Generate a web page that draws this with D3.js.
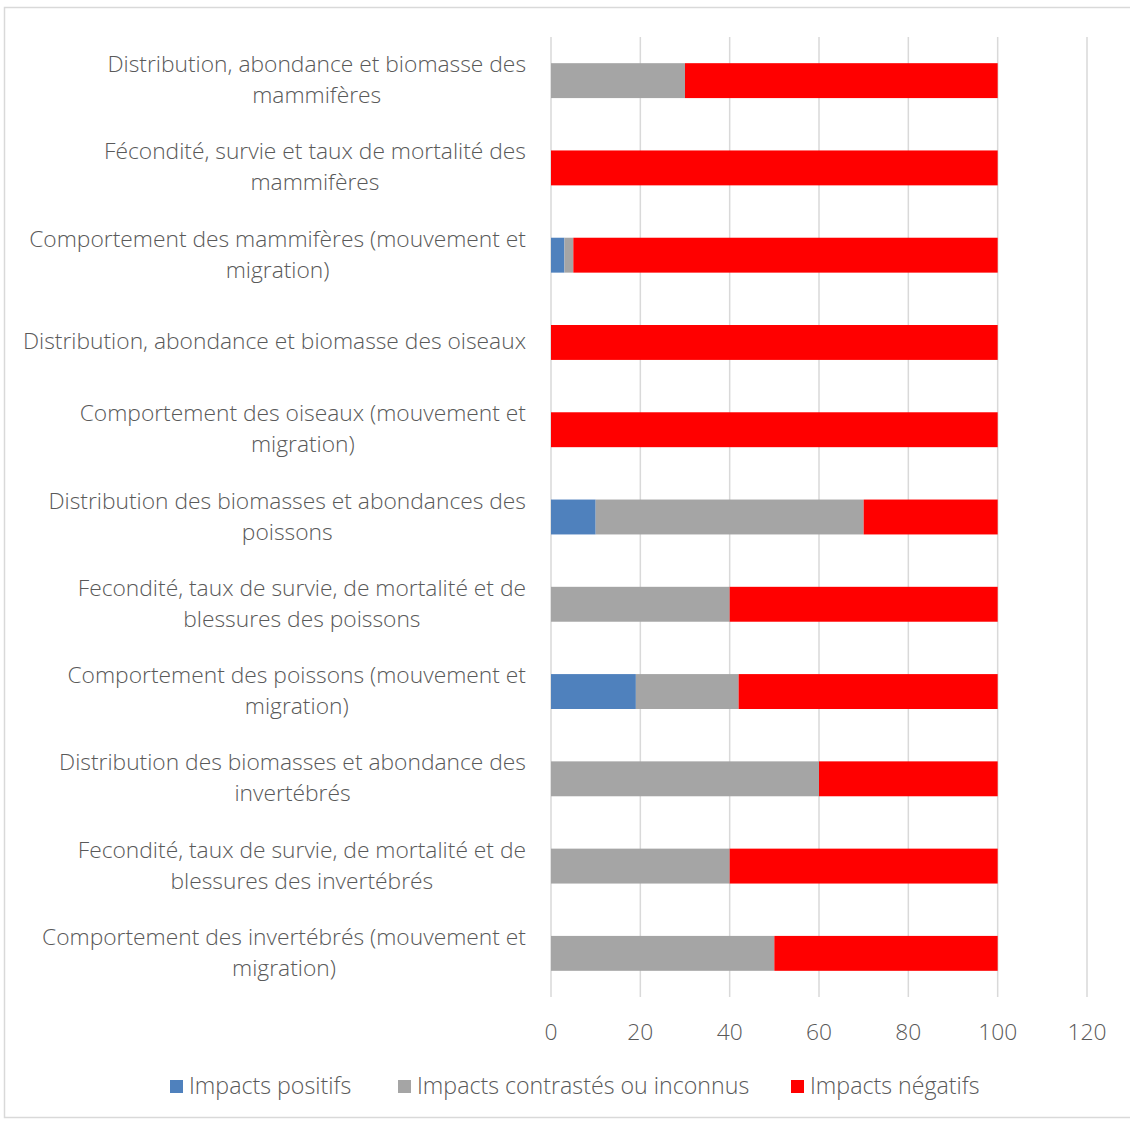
<!DOCTYPE html>
<html>
<head>
<meta charset="utf-8">
<script src="https://cdn.jsdelivr.net/npm/d3@7"></script>
<style>
  html, body { margin: 0; padding: 0; background: #fff; }
  svg text { font-family: "Open Sans", "Noto Sans", sans-serif; font-weight: 300; fill: #595959; }
</style>
</head>
<body>
<div id="chart"></div>
<script>
// Barres empilées à 100 % — impacts par groupe d'espèces
const CATEGORIES = [
  ["Distribution, abondance et biomasse des", "mammifères"],
  ["Fécondité, survie et taux de mortalité des", "mammifères"],
  ["Comportement des mammifères (mouvement et", "migration)"],
  ["Distribution, abondance et biomasse des oiseaux"],
  ["Comportement des oiseaux (mouvement et", "migration)"],
  ["Distribution des biomasses et abondances des", "poissons"],
  ["Fecondité, taux de survie, de mortalité et de", "blessures des poissons"],
  ["Comportement des poissons (mouvement et", "migration)"],
  ["Distribution des biomasses et abondance des", "invertébrés"],
  ["Fecondité, taux de survie, de mortalité et de", "blessures des invertébrés"],
  ["Comportement des invertébrés (mouvement et", "migration)"],
];
const POSITIFS   = [0, 0, 3, 0, 0, 10, 0, 19, 0, 0, 0];
const CONTRASTES = [30, 0, 2, 0, 0, 60, 40, 23, 60, 40, 50];
const NEGATIFS   = [70, 100, 95, 100, 100, 30, 60, 58, 40, 60, 50];
const SERIES = ["Impacts positifs", "Impacts contrastés ou inconnus", "Impacts négatifs"];
const TICKS = [0, 20, 40, 60, 80, 100, 120];

const COLS = ["#4f81bd", "#a5a5a5", "#ff0000"];
const W = 1130, H = 1122, ML = 551, MR = 1087, TOP = 37, BOT = 997;

const svg = d3.select("#chart").append("svg")
  .attr("width", W).attr("height", H).style("display", "block");

// cadre
svg.append("rect").attr("x", 4.5).attr("y", 7.5).attr("width", W).attr("height", 1110)
  .attr("fill", "none").attr("stroke", "#d9d9d9").attr("stroke-width", 1.5);

const x = d3.scaleLinear().domain([0, 120]).range([ML, MR]);
const y = d3.scaleBand().domain(d3.range(CATEGORIES.length)).range([TOP, BOT])
  .paddingInner(0.6).paddingOuter(0.3);

// grille
TICKS.forEach(v => {
  svg.append("line").attr("x1", x(v)).attr("x2", x(v)).attr("y1", TOP).attr("y2", BOT)
    .attr("stroke", "#d9d9d9").attr("stroke-width", 1.5);
  svg.append("text").attr("x", x(v)).attr("y", 1040).attr("text-anchor", "middle")
    .attr("font-size", 22.8).text(v);
});

// barres
const rows = CATEGORIES.map((c, i) => [POSITIFS[i], CONTRASTES[i], NEGATIFS[i]]);
rows.forEach((vals, i) => {
  let acc = 0;
  vals.forEach((v, s) => {
    if (v > 0) {
      svg.append("rect").attr("x", x(acc)).attr("width", x(acc + v) - x(acc))
        .attr("y", y(i)).attr("height", y.bandwidth()).attr("fill", COLS[s]);
    }
    acc += v;
  });
});

// libellés (bloc aligné à droite, lignes centrées)
const LH = 31, RIGHT = 526;
CATEGORIES.forEach((lines, i) => {
  const g = svg.append("g");
  const cy = y(i) + y.bandwidth() / 2;
  const t0 = cy - (lines.length - 1) * LH / 2 + 7;
  const nodes = lines.map((l, k) => g.append("text").attr("y", t0 + k * LH)
    .attr("font-size", 22.8).attr("text-anchor", "middle").text(l));
  const wMax = d3.max(nodes, n => n.node().getComputedTextLength());
  nodes.forEach(n => n.attr("x", RIGHT - wMax / 2));
});

// légende
const lg = svg.append("g");
const LX = [170, 398, 791];
SERIES.forEach((s, i) => {
  lg.append("rect").attr("x", LX[i]).attr("y", 1080).attr("width", 13).attr("height", 13).attr("fill", COLS[i]);
  lg.append("text").attr("x", LX[i] + 19).attr("y", 1094).attr("font-size", 23.2).text(s);
});
</script>
</body>
</html>
